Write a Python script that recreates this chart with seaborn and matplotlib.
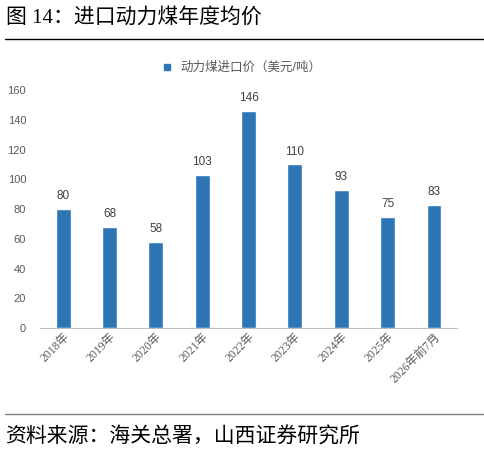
import matplotlib
matplotlib.use("Agg")
import matplotlib.pyplot as plt
import seaborn as sns
import pandas as pd
from matplotlib.lines import Line2D

categories = ["2018年", "2019年", "2020年", "2021年", "2022年", "2023年", "2024年", "2025年", "2026年前7月"]
values = [80, 68, 58, 103, 146, 110, 93, 75, 83]
series_name = "动力煤进口价（美元/吨）"
title = "图 14：进口动力煤年度均价"
source = "资料来源：海关总署，山西证券研究所"

sns.set_theme(style="white")
plt.rcParams['font.family'] = ['Liberation Sans', 'Noto Sans CJK SC']

df = pd.DataFrame({"cat": categories, "val": values})
color = "#2E75B6"

fig = plt.figure(figsize=(4.85, 4.55), dpi=100)
ax = fig.add_axes([0.0825, 0.279, 0.86, 0.523])
sns.barplot(data=df, x="cat", y="val", color=color, width=0.32, ax=ax, saturation=1)

ax.set_ylim(0, 160)
ax.set_yticks(range(0, 161, 20))
ax.set_xlim(-0.5, len(categories) - 0.5)
ax.set_xlabel("")
ax.set_ylabel("")
for s in ["top", "right", "left"]:
    ax.spines[s].set_visible(False)
ax.spines["bottom"].set_color("#BFBFBF")
ax.spines["bottom"].set_linewidth(0.8)
ax.tick_params(axis="y", labelsize=8, colors="#595959", length=0, pad=10)
ax.tick_params(axis="x", length=0, pad=2)
ax.set_xticks(range(len(categories)))
ax.set_xticklabels(categories, rotation=45, ha="right", rotation_mode="anchor",
                   fontsize=8.5, color="#595959", family=['Liberation Serif', 'Noto Sans CJK SC'])

for i, v in enumerate(values):
    ax.annotate(str(v), xy=(i, v), xytext=(0, 5), textcoords="offset points",
                ha="center", va="bottom", fontsize=8.5, color="#404040")

handle = Line2D([], [], marker="s", linestyle="none", color=color, markersize=4.5)
fig.legend([handle], [series_name], loc="center", bbox_to_anchor=(0.49, 0.851), frameon=False,
           fontsize=9, handletextpad=0.1, labelcolor="#595959")

fig.text(0.012, 0.96, title, fontsize=15, ha="left", va="center", color="black",
         family=['Liberation Serif', 'Noto Sans CJK SC'])
fig.add_artist(Line2D([0.01, 1.0], [0.914, 0.914], color="black", linewidth=1.0, transform=fig.transFigure))
fig.add_artist(Line2D([0.01, 1.0], [0.09, 0.09], color="#7F7F7F", linewidth=1.0, transform=fig.transFigure))
fig.text(0.01, 0.04, source, fontsize=15, ha="left", va="center", color="black",
         family=['Noto Sans CJK SC'])

fig.savefig("out.png", dpi=100)
